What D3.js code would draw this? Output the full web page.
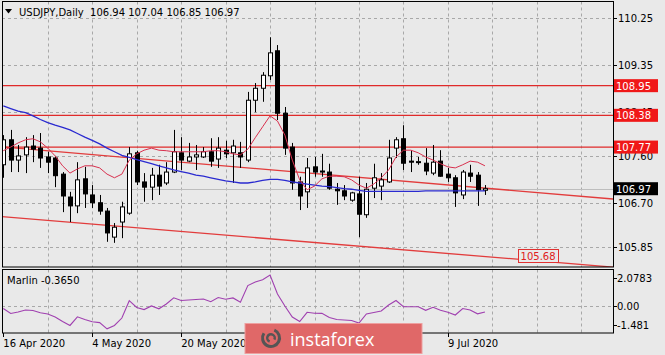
<!DOCTYPE html>
<html><head><meta charset="utf-8">
<script src="https://cdn.jsdelivr.net/npm/d3@7"></script>
<style>html,body{margin:0;padding:0;background:#e9e9e9;}svg{display:block;}</style>
</head><body><svg id="c" width="665" height="355"></svg>
<script>
// ---- data ----
const opens  = [107.43,107.91,107.52,107.62,107.79,107.75,107.58,107.56,107.25,106.81,106.64,107.16,106.85,106.70,106.54,106.04,106.33,106.50,107.66,107.10,107.00,107.23,107.08,107.29,107.66,107.50,107.58,107.58,107.68,107.54,107.71,107.66,107.66,107.52,108.67,108.90,109.14,109.62,108.42,107.77,107.10,106.91,107.39,107.31,107.29,106.96,106.93,106.75,106.87,106.47,106.98,107.02,107.10,107.75,107.93,107.50,107.48,107.46,107.27,107.50,107.25,107.18,106.85,107.27,107.23,106.94];
const highs  = [108.00,108.10,107.81,107.96,108.00,108.04,107.68,107.60,107.29,106.91,107.48,107.39,107.04,106.85,106.60,106.31,106.72,107.77,107.70,107.27,107.37,107.43,107.48,108.10,107.96,107.85,107.81,107.77,107.94,107.96,107.89,107.91,107.87,108.83,109.00,109.21,109.88,109.73,108.54,107.85,107.20,107.56,107.58,107.64,107.45,107.08,107.04,106.91,107.20,107.08,107.45,107.27,107.91,107.96,108.19,107.71,107.58,107.75,107.81,107.71,107.37,107.23,107.33,107.43,107.29,107.04];
const lows   = [107.18,107.29,107.29,107.27,107.48,107.37,107.27,107.00,106.52,106.33,106.50,106.60,106.60,106.47,105.95,105.93,106.02,106.47,107.04,106.72,106.75,106.85,107.04,107.27,107.33,107.48,107.33,107.56,107.39,107.37,107.56,107.08,107.37,107.48,108.44,108.64,109.06,108.29,107.62,106.95,106.56,106.60,107.20,107.20,106.95,106.66,106.75,106.72,106.04,106.41,106.79,106.75,107.08,107.56,107.33,107.29,107.43,107.23,107.23,107.20,107.10,106.62,106.77,107.10,106.64,106.85];
const closes = [107.91,107.52,107.60,107.77,107.73,107.56,107.48,107.22,106.83,106.64,107.14,106.87,106.70,106.54,106.12,106.23,106.62,107.64,107.10,107.00,107.23,107.02,107.29,107.68,107.52,107.58,107.62,107.68,107.50,107.75,107.64,107.79,107.58,108.67,108.90,109.15,109.58,108.42,107.75,107.08,106.83,107.37,107.29,107.29,106.98,106.93,106.83,106.89,106.48,106.96,107.18,107.14,107.56,107.91,107.46,107.48,107.49,107.31,107.48,107.21,107.18,106.89,107.29,107.21,106.95,106.97];
const maSlow = [108.56,108.51,108.46,108.43,108.37,108.30,108.24,108.19,108.15,108.10,108.03,107.96,107.90,107.83,107.75,107.68,107.61,107.57,107.53,107.49,107.45,107.41,107.37,107.33,107.30,107.27,107.23,107.21,107.18,107.15,107.12,107.10,107.08,107.08,107.10,107.13,107.15,107.15,107.13,107.10,107.08,107.06,107.04,107.02,107.01,106.99,106.97,106.96,106.94,106.92,106.92,106.92,106.92,106.92,106.92,106.92,106.92,106.93,106.93,106.93,106.93,106.93,106.93,106.93,106.93,106.93];
const maFast = [107.70,107.77,107.85,107.91,107.93,107.87,107.75,107.60,107.41,107.27,107.35,107.41,107.41,107.37,107.25,107.18,107.25,107.52,107.64,107.71,107.75,107.71,107.70,107.68,107.68,107.68,107.68,107.68,107.70,107.70,107.68,107.64,107.62,107.73,107.95,108.16,108.37,108.27,108.00,107.52,107.14,106.95,107.02,107.16,107.21,107.21,107.20,107.14,107.04,106.98,107.06,107.18,107.33,107.58,107.71,107.71,107.66,107.58,107.52,107.45,107.39,107.37,107.43,107.50,107.48,107.41];
const marlin = [-0.14,-0.47,-0.37,-0.24,-0.27,-0.42,-0.50,-0.70,-1.00,-1.26,-0.69,-0.87,-1.01,-1.07,-1.481,-1.26,-0.77,0.38,-0.07,-0.21,0.03,-0.16,0.16,0.57,0.39,0.42,0.46,0.49,0.31,0.59,0.47,0.56,0.27,1.38,1.62,1.76,2.0783,0.82,0.03,-0.70,-1.00,-0.39,-0.45,-0.46,-0.74,-0.87,-0.90,-0.93,-1.10,-0.50,-0.40,-0.30,0.09,0.39,-0.02,-0.02,-0.02,-0.26,-0.06,-0.26,-0.38,-0.57,-0.14,-0.24,-0.49,-0.365];
const priceTicks = [110.25,109.35,108.45,107.60,106.70,105.85];
const levels = [108.95,108.38,107.77];
const lastPrice = 106.97;
const marlinTicks = [2.0783,0.00,-1.481];
const marlinTickText = ["2.0783","0.00","-1.481"];
const dateTicks = [0,12,24,60];
const dateLabels = ["16 Apr 2020","4 May 2020","20 May 2020","9 Jul 2020"];
const trendUpper = [[0,107.77],[80,106.80]];
const trendLower = [[0,106.43],[80,105.49]];
const trendLabel = {i:69.4, p:105.68, text:"105.68"};
const title = "USDJPY,Daily  106.94 107.04 106.85 106.97";
const marlinTitle = "Marlin -0.3650";

// ---- layout ----
const svg = d3.select("#c");
const L = 2, R = 613, T = 1.5, MB = 267, IT = 269.5, IB = 333;
const FONT = "'DejaVu Sans', sans-serif";
const x = d3.scaleLinear().domain([0,65]).range([3.3, 3.3+7.41*65]);
const y = d3.scaleLinear().domain([105.85,110.25]).range([247,18]);
const ym = d3.scaleLinear().domain([-1.481,2.0783]).range([328.8,275]);

svg.append("rect").attr("width",665).attr("height",355).attr("fill","#e9e9e9");
const defs = svg.append("defs");
defs.append("clipPath").attr("id","cm").append("rect").attr("x",L).attr("y",T).attr("width",R-L).attr("height",MB-T);
defs.append("clipPath").attr("id","ci").append("rect").attr("x",L).attr("y",IT).attr("width",R-L).attr("height",IB-IT);

const main = svg.append("g").attr("clip-path","url(#cm)");
const ind = svg.append("g").attr("clip-path","url(#ci)");

// grid
const gridBars = d3.range(6, 84, 6);
[main, ind].forEach((g,k)=>{
  g.selectAll(null).data(gridBars).join("line")
    .attr("x1",d=>Math.round(x(d))+0.5).attr("x2",d=>Math.round(x(d))+0.5)
    .attr("y1",k?IT:T).attr("y2",k?IB:MB)
    .attr("stroke","#a8a8a8").attr("stroke-dasharray","3,3").attr("stroke-width",1);
});
main.selectAll(null).data(priceTicks).join("line")
  .attr("x1",L).attr("x2",R).attr("y1",d=>Math.round(y(d))+0.5).attr("y2",d=>Math.round(y(d))+0.5)
  .attr("stroke","#a8a8a8").attr("stroke-dasharray","3,3");
ind.append("line").attr("x1",L).attr("x2",R).attr("y1",Math.round(ym(0))+0.5).attr("y2",Math.round(ym(0))+0.5)
  .attr("stroke","#a8a8a8").attr("stroke-dasharray","3,3");

// bid line
main.append("line").attr("x1",L).attr("x2",R).attr("y1",Math.round(y(lastPrice))+0.5).attr("y2",Math.round(y(lastPrice))+0.5)
  .attr("stroke","#bdbdbd");

// horizontal levels
main.selectAll(null).data(levels).join("line")
  .attr("x1",L).attr("x2",R).attr("y1",d=>y(d)).attr("y2",d=>y(d))
  .attr("stroke","#e02a2a").attr("stroke-width",1.2);

// trend lines
function ext(tl, i){ const [a,b]=tl; return a[1]+(b[1]-a[1])*(i-a[0])/(b[0]-a[0]); }
[trendUpper, trendLower].forEach(tl=>{
  const i0 = x.invert(L-2), i1 = x.invert(R+2);
  main.append("line").attr("x1",x(i0)).attr("x2",x(i1)).attr("y1",y(ext(tl,i0))).attr("y2",y(ext(tl,i1)))
    .attr("stroke","#e23c3c").attr("stroke-width",1.3);
});
// trend label
const lx = x(trendLabel.i), ly = y(trendLabel.p);
main.append("rect").attr("x",Math.round(lx)+0.5).attr("y",Math.round(ly-6.5)+0.5).attr("width",40).attr("height",13)
  .attr("fill","#e9e9e9").attr("stroke","#e03030");
main.append("text").attr("x",lx+3).attr("y",ly+4).attr("font-family",FONT).attr("font-size",10).attr("fill","#e02020").text(trendLabel.text);

// candles
const idx = d3.range(opens.length);
const cg = main.append("g");
cg.selectAll(null).data(idx).join("line")
  .attr("x1",i=>Math.round(x(i))+0.5).attr("x2",i=>Math.round(x(i))+0.5)
  .attr("y1",i=>y(highs[i])).attr("y2",i=>y(lows[i])).attr("stroke","#000").attr("stroke-width",1);
cg.selectAll(null).data(idx).join("rect")
  .attr("x",i=>Math.round(x(i))-1.5).attr("width",4)
  .attr("y",i=>Math.min(y(opens[i]),y(closes[i])))
  .attr("height",i=>Math.max(1,Math.abs(y(opens[i])-y(closes[i]))))
  .attr("fill",i=>closes[i]>=opens[i]?"#ffffff":"#000000").attr("stroke","#000").attr("stroke-width",1);

// moving averages
const ln = d3.line().x((d,i)=>x(i));
main.append("path").attr("d",ln.y(d=>y(d))(maSlow)).attr("fill","none").attr("stroke","#2a2ad0").attr("stroke-width",1.3);
main.append("path").attr("d",ln.y(d=>y(d))(maFast)).attr("fill","none").attr("stroke","#d8304e").attr("stroke-width",1);

// marlin line
ind.append("path").attr("d",d3.line().x((d,i)=>x(i)).y(d=>ym(d))(marlin)).attr("fill","none").attr("stroke","#a040b0").attr("stroke-width",1.1);

// frames
svg.append("rect").attr("x",L+0.5).attr("y",T).attr("width",R-L).attr("height",MB-T).attr("fill","none").attr("stroke","#000");
svg.append("rect").attr("x",L+0.5).attr("y",IT).attr("width",R-L).attr("height",IB-IT).attr("fill","none").attr("stroke","#000");

// right price axis
const ax = svg.append("g");
ax.selectAll(null).data(priceTicks).join("line")
  .attr("x1",R).attr("x2",R+4).attr("y1",d=>Math.round(y(d))+0.5).attr("y2",d=>Math.round(y(d))+0.5).attr("stroke","#000");
ax.selectAll(null).data(priceTicks).join("text")
  .attr("x",618).attr("y",d=>y(d)+4).attr("font-family",FONT).attr("font-size",10).attr("fill","#000")
  .text(d=>d.toFixed(2));
// level labels
levels.forEach(v=>{
  ax.append("rect").attr("x",614).attr("y",y(v)-6.5).attr("width",44).attr("height",13).attr("fill","#f01818");
  ax.append("text").attr("x",616).attr("y",y(v)+4).attr("font-family",FONT).attr("font-size",10).attr("fill","#fff").text(v.toFixed(2));
});
ax.append("rect").attr("x",614).attr("y",y(lastPrice)-6.5).attr("width",44).attr("height",13).attr("fill","#000");
ax.append("text").attr("x",616).attr("y",y(lastPrice)+4).attr("font-family",FONT).attr("font-size",10).attr("fill","#fff").text(lastPrice.toFixed(2));

// marlin axis
ax.selectAll(null).data(marlinTicks).join("line")
  .attr("x1",R).attr("x2",R+4).attr("y1",(d,i)=>[278,306,325][i]+0.5).attr("y2",(d,i)=>[278,306,325][i]+0.5).attr("stroke","#000");
ax.selectAll(null).data(marlinTicks).join("text")
  .attr("x",617).attr("y",(d,i)=>i===0?ym(d)+7:i===2?ym(d)+0:ym(d)+4)
  .attr("font-family",FONT).attr("font-size",10).attr("fill","#000").text((d,i)=>marlinTickText[i]);

// date axis
ax.selectAll(null).data(dateTicks).join("line")
  .attr("x1",d=>Math.round(x(d))+0.5).attr("x2",d=>Math.round(x(d))+0.5).attr("y1",IB).attr("y2",IB+4).attr("stroke","#000");
ax.selectAll(null).data(dateTicks).join("text")
  .attr("x",d=>x(d)).attr("y",347).attr("font-family",FONT).attr("font-size",10).attr("fill","#000")
  .text((d,i)=>dateLabels[i]);

// titles
svg.append("path").attr("d","M5,9 L12,9 L8.5,13.5 Z").attr("fill","#000");
svg.append("text").attr("x",19).attr("y",16).attr("font-family",FONT).attr("font-size",10).attr("fill","#000")
  .attr("xml:space","preserve").style("white-space","pre").text(title);
svg.append("text").attr("x",7).attr("y",284).attr("font-family",FONT).attr("font-size",10).attr("fill","#000").text(marlinTitle);

// watermark
const wm = svg.append("g");
wm.append("rect").attr("x",245).attr("y",323.5).attr("width",177).attr("height",30).attr("fill","#e06868").attr("stroke","#eea0a0").attr("stroke-width",1);
wm.append("path").attr("d",d3.arc()({innerRadius:7,outerRadius:10,startAngle:0.4,endAngle:5.3})).attr("transform","translate(271,338)").attr("fill","#555");
wm.append("path").attr("d",d3.arc()({innerRadius:2.5,outerRadius:5,startAngle:3.5,endAngle:8.3})).attr("transform","translate(271,338)").attr("fill","#555");
wm.append("text").attr("x",290).attr("y",346).attr("font-family","'Open Sans', sans-serif").attr("font-size",18).attr("fill","#fff").text("instaforex");
</script></body></html>
